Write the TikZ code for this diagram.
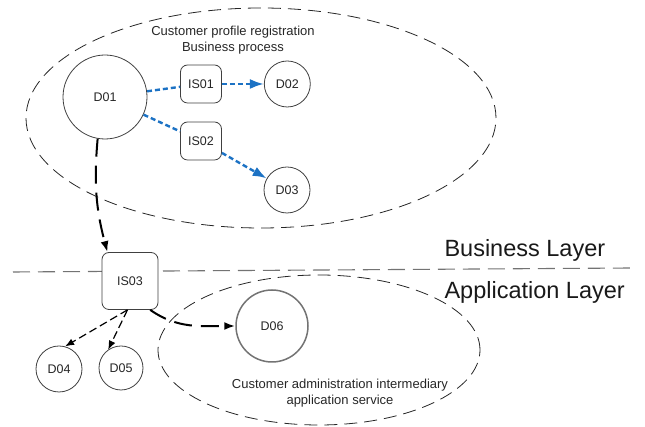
\documentclass[tikz,border=0pt]{standalone}
\usepackage{fontspec}
\setmainfont{Liberation Sans}
\usetikzlibrary{arrows.meta,positioning}
\definecolor{flowblue}{RGB}{28,114,196}
\tikzset{>={Latex[length=11pt,width=8pt]}, % filled arrow heads
data/.style={circle, draw=black!75, line width=0.8pt, minimum size=46pt, inner sep=0pt, fill=white, text=black!85, font=\fontsize{12.5}{14}\selectfont}, % data objects
service/.style={draw=black!75, line width=0.8pt, rounded corners=7pt, minimum width=41pt, minimum height=38pt, fill=white, text=black!85, font=\fontsize{12.5}{14}\selectfont}, % services
zone/.style={draw=black!85, line width=0.8pt, dash pattern=on 13pt off 7pt}, % process areas
bluelink/.style={->, flowblue, line width=2.4pt, dash pattern=on 5pt off 3pt, >={Latex[length=14pt,width=10pt]}}, % business flow
mainlink/.style={->, line width=2pt, dash pattern=on 18pt off 9pt}, % main links
sublink/.style={->, line width=1.2pt, dash pattern=on 8pt off 4pt, >={Latex[length=9pt,width=7pt]}}, % sub links
caption/.style={align=center, text=black!85, font=\fontsize{13}{16}\selectfont}, % area captions
layer/.style={anchor=west, text=black!90, font=\fontsize{23.5}{26}\selectfont}, % layer names
}

\begin{document}
\begin{tikzpicture}[x=1pt, y=1pt]
\useasboundingbox (0,0) rectangle (645,427);
% process areas
\draw[zone] (261,309) ellipse [x radius=235, y radius=110];
\draw[zone] (319,77) ellipse [x radius=161, y radius=75];
\node[caption] (title1) at (233,387) {Customer profile registration\\Business process};
\node[caption] (title2) at (340,34) {Customer administration intermediary\\application service};
% layers
\draw[black!55, line width=1.1pt, dash pattern=on 17pt off 8pt] (13,155) -- (632,159);
\node[layer] (bl) at (441,177) {Business Layer};
\node[layer] (al) at (441,135) {Application Layer};
% nodes
\node[data, minimum size=84pt] (D01) at (105,330) {D01};
\node[service] (IS01) at (201,343) {IS01};
\node[data, right=42pt of IS01] (D02) {D02};
\node[service] (IS02) at (201,286) {IS02};
\node[data] (D03) at (287,237) {D03};
\node[service, minimum width=56pt, minimum height=57pt] (IS03) at (130,146) {IS03};
\node[data] (D04) at (59,58) {D04};
\node[data, minimum size=44pt] (D05) at (121,59) {D05};
\node[data, minimum size=72pt, line width=1.5pt, draw=black!55] (D06) at (272,101) {D06};
% links
\draw[bluelink, -] (D01) -- (IS01);
\draw[bluelink] (IS01) -- (D02);
\draw[bluelink, -] (D01) -- (IS02);
\draw[bluelink] (IS02) -- (D03);
\draw[mainlink] (D01.260) to[bend right=10] (IS03.128);
\draw[mainlink] (IS03.-55) to[out=-35, in=180] (D06.west);
\draw[sublink] (IS03.265) -- (D04.75);
\draw[sublink] (IS03.265) -- (D05.125);
\end{tikzpicture}
\end{document}
